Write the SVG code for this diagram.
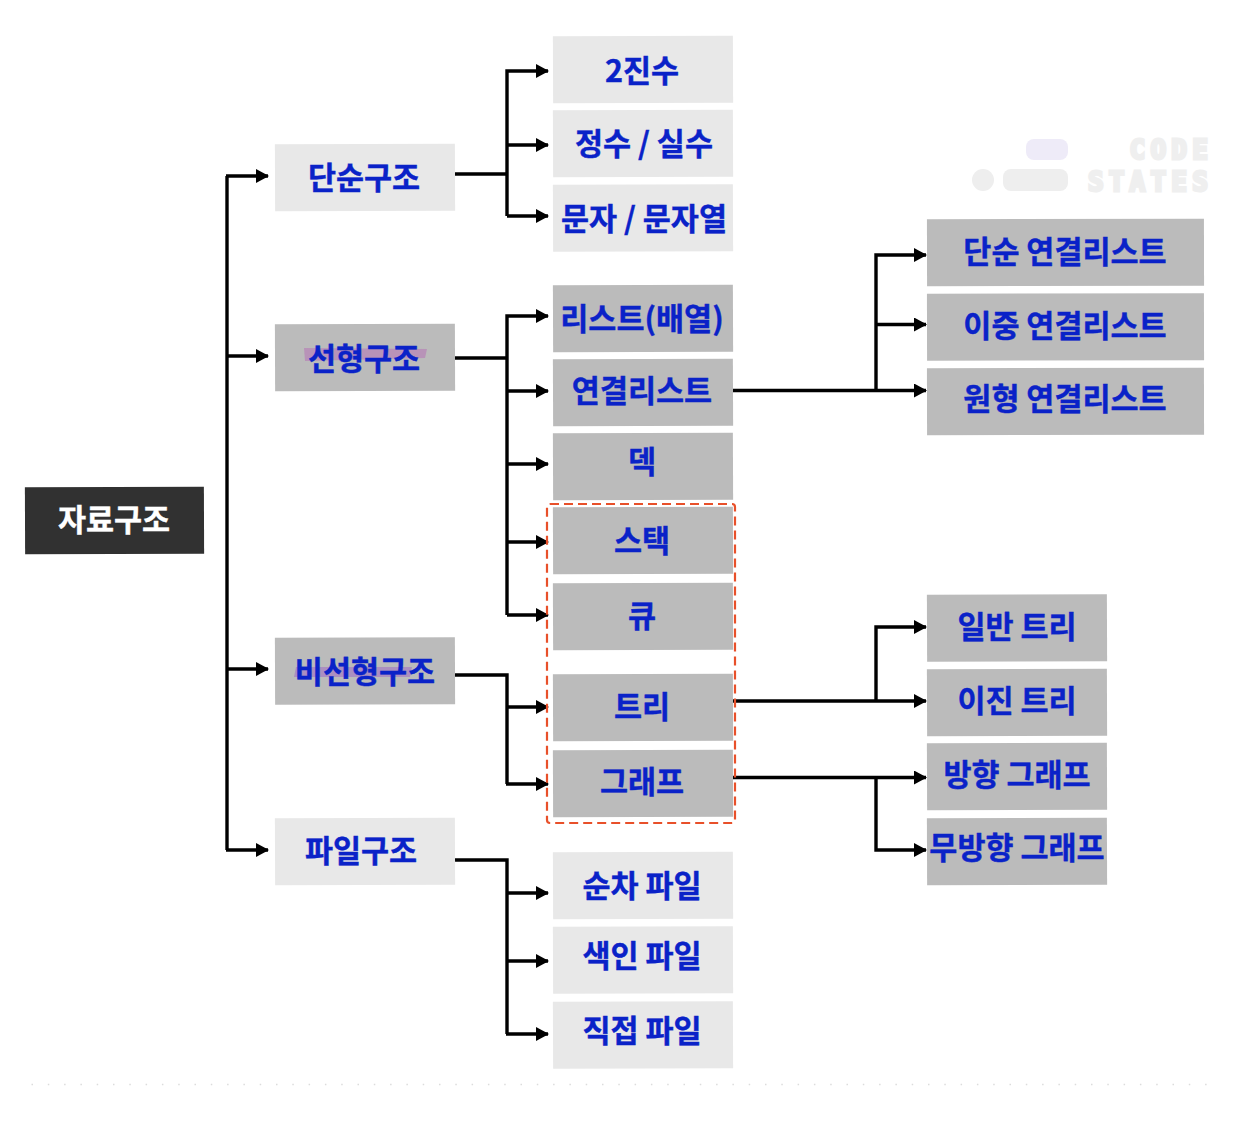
<svg xmlns="http://www.w3.org/2000/svg" width="1238" height="1136" viewBox="0 0 1238 1136">
<style>
text{font-family:"Noto Sans CJK KR","Noto Sans",sans-serif;font-weight:700;font-size:30.500px;text-anchor:middle;fill:#0a22c8;stroke:#0a22c8;stroke-width:.4}
.light{fill:#e8e8e8}
.mid{fill:#bbbbbb}
.dark{fill:#313131}
.wire{fill:none;stroke:#000;stroke-width:3.4}
.brand{font-family:"DejaVu Sans Mono","Liberation Mono",monospace;font-weight:700;font-size:26px;letter-spacing:5.200px;fill:#efefef;text-anchor:end;stroke:#efefef;stroke-width:3}
</style>
<defs>
<marker id="head" markerUnits="userSpaceOnUse" markerWidth="13" markerHeight="14" refX="12" refY="7" orient="auto">
<path d="M0 0L13 7L0 14Z" fill="#000"/>
</marker>
</defs>
<rect width="1238" height="1136" fill="#fff"/>

<!-- dotted rule along the bottom -->
<line x1="31.5" y1="1084.5" x2="1213" y2="1084.5" stroke="#dcdcdc" stroke-width="1.5" stroke-dasharray="1.5 14.8"/>

<!-- brand mark -->
<g id="brand">
<rect x="1026" y="139" width="42" height="21" rx="8" fill="#eeebf8"/>
<circle cx="983" cy="180" r="11" fill="#eeeeee"/>
<rect x="1003" y="169" width="65" height="22" rx="8" fill="#eeeeee"/>
<text class="brand" x="1213" y="159">CODE</text>
<text class="brand" x="1213" y="191">STATES</text>
</g>

<g id="connectors">
<path class="wire" d="M227 176V850"/>
<path class="wire" marker-end="url(#head)" d="M226 176H268"/>
<path class="wire" marker-end="url(#head)" d="M227 356H268"/>
<path class="wire" marker-end="url(#head)" d="M227 669H268"/>
<path class="wire" marker-end="url(#head)" d="M226 850H268"/>

<path class="wire" d="M455 174H507"/>
<path class="wire" marker-end="url(#head)" d="M507 216V71H548"/>
<path class="wire" marker-end="url(#head)" d="M507 145H548"/>
<path class="wire" marker-end="url(#head)" d="M507 216H548"/>

<path class="wire" d="M455 358H507"/>
<path class="wire" marker-end="url(#head)" d="M507 615V316H548"/>
<path class="wire" marker-end="url(#head)" d="M507 391H548"/>
<path class="wire" marker-end="url(#head)" d="M507 464H548"/>
<path class="wire" marker-end="url(#head)" d="M507 542H548"/>
<path class="wire" marker-end="url(#head)" d="M507 615H548"/>

<path class="wire" d="M455 675H507V784"/>
<path class="wire" marker-end="url(#head)" d="M507 707H548"/>
<path class="wire" marker-end="url(#head)" d="M506 784H548"/>

<path class="wire" d="M455 860H507V1034"/>
<path class="wire" marker-end="url(#head)" d="M507 893H548"/>
<path class="wire" marker-end="url(#head)" d="M507 961H548"/>
<path class="wire" marker-end="url(#head)" d="M506 1034H548"/>

<path class="wire" marker-end="url(#head)" d="M733 390.500H926"/>
<path class="wire" marker-end="url(#head)" d="M876 390V255H926"/>
<path class="wire" marker-end="url(#head)" d="M876 324.500H926"/>

<path class="wire" marker-end="url(#head)" d="M733 701H926"/>
<path class="wire" marker-end="url(#head)" d="M876 701V627H926"/>
<path class="wire" marker-end="url(#head)" d="M733 777.500H926"/>
<path class="wire" marker-end="url(#head)" d="M876 777V850H926"/>
</g>

<g id="n-root"><rect class="dark" x="25" y="487" width="179" height="67" transform="rotate(-.2 114 520)"/><text x="114" y="531" style="fill:#fff;stroke:#fff">자료구조</text></g>

<g id="n-simple"><rect class="light" x="275" y="144" width="180" height="67" transform="rotate(-.2 365 177)"/><text x="364" y="189">단순구조</text></g>
<g id="n-linear"><rect class="mid" x="275" y="324" width="180" height="67" transform="rotate(-.2 365 357)"/>
<path d="M304 348L427 349L425 358L305 361Z" fill="#b893b8"/><text x="364" y="370">선형구조</text></g>
<g id="n-nonlinear"><rect class="mid" x="275" y="637.500" width="180" height="67" transform="rotate(-.2 365 671)"/>
<path d="M296 667L412 667L410 677L294 677Z" fill="#ab8fc0"/><text x="365" y="683">비선형구조</text></g>
<g id="n-file"><rect class="light" x="275" y="818" width="180" height="67" transform="rotate(-.2 365 851)"/><text x="361" y="862">파일구조</text></g>

<g id="n-binary"><rect class="light" x="553" y="36" width="180" height="67" transform="rotate(-.2 643 69)"/><text x="642" y="82">2진수</text></g>
<g id="n-number"><rect class="light" x="553" y="110" width="180" height="67" transform="rotate(-.2 643 143)"/><text x="644" y="155">정수 / 실수</text></g>
<g id="n-string"><rect class="light" x="553" y="184.500" width="180" height="67" transform="rotate(-.2 643 218)"/><text x="644" y="230">문자 / 문자열</text></g>
<g id="n-list"><rect class="mid" x="553" y="285" width="180" height="67" transform="rotate(-.2 643 318)"/><text x="642" y="330">리스트(배열)</text></g>
<g id="n-linked"><rect class="mid" x="553" y="359" width="180" height="67" transform="rotate(-.2 643 392)"/><text x="642" y="402">연결리스트</text></g>
<g id="n-deque"><rect class="mid" x="553" y="433" width="180" height="67" transform="rotate(-.2 643 466)"/><text x="642" y="473">덱</text></g>
<g id="n-stack"><rect class="mid" x="553" y="507" width="180" height="67" transform="rotate(-.2 643 540)"/><text x="642" y="552">스택</text></g>
<g id="n-queue"><rect class="mid" x="553" y="583" width="180" height="67" transform="rotate(-.2 643 616)"/><text x="642" y="627">큐</text></g>
<g id="n-tree"><rect class="mid" x="553" y="674" width="180" height="67" transform="rotate(-.2 643 707)"/><text x="642" y="718">트리</text></g>
<g id="n-graph"><rect class="mid" x="553" y="750" width="180" height="67" transform="rotate(-.2 643 783)"/><text x="642" y="793">그래프</text></g>
<g id="n-seqfile"><rect class="light" x="553" y="852" width="180" height="67" transform="rotate(-.2 643 885)"/><text x="642" y="897">순차 파일</text></g>
<g id="n-indexfile"><rect class="light" x="553" y="926.500" width="180" height="67" transform="rotate(-.2 643 960)"/><text x="642" y="967">색인 파일</text></g>
<g id="n-directfile"><rect class="light" x="553" y="1001.500" width="180" height="67" transform="rotate(-.2 643 1035)"/><text x="642" y="1042">직접 파일</text></g>

<rect id="highlight" x="547" y="504" width="188" height="319" rx="3" fill="none" stroke="#e8502a" stroke-width="2.200" stroke-dasharray="9 5"/>

<g id="n-singly"><rect class="mid" x="927" y="219" width="277" height="67" transform="rotate(-.1 1065 252)"/><text x="1065" y="263">단순 연결리스트</text></g>
<g id="n-doubly"><rect class="mid" x="927" y="293.500" width="277" height="67" transform="rotate(-.1 1065 327)"/><text x="1065" y="337">이중 연결리스트</text></g>
<g id="n-circular"><rect class="mid" x="927" y="368" width="277" height="67" transform="rotate(-.1 1065 401)"/><text x="1065" y="410">원형 연결리스트</text></g>

<g id="n-gentree"><rect class="mid" x="927" y="594.500" width="180" height="67" transform="rotate(-.2 1017 628)"/><text x="1017" y="638">일반 트리</text></g>
<g id="n-bintree"><rect class="mid" x="927" y="669" width="180" height="67" transform="rotate(-.2 1017 702)"/><text x="1017" y="712">이진 트리</text></g>
<g id="n-digraph"><rect class="mid" x="927" y="743" width="180" height="67" transform="rotate(-.2 1017 776)"/><text x="1017" y="786">방향 그래프</text></g>
<g id="n-undigraph"><rect class="mid" x="927" y="818" width="180" height="67" transform="rotate(-.2 1017 851)"/><text x="1017" y="859">무방향 그래프</text></g>
</svg>
